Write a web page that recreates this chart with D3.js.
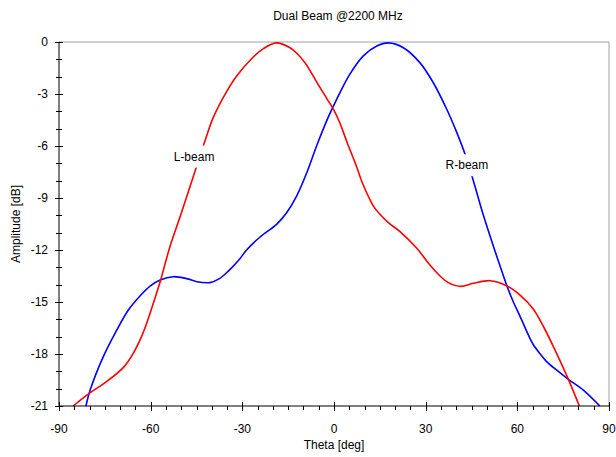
<!DOCTYPE html>
<html>
<head>
<meta charset="utf-8">
<script src="https://cdn.jsdelivr.net/npm/d3@7"></script>
<style>
  body { margin: 0; background: #fff; }
  svg { display: block; font-family: "Liberation Sans", Arial, sans-serif; }
</style>
</head>
<body>
<div id="chart"></div>
<script>
// Series data: [theta deg, amplitude dB]
const lBeam = [
  [-85.4, -21.0], [-80.1, -20.27], [-74.9, -19.65], [-68.9, -18.77], [-65.7, -17.96],
  [-63.0, -17.0], [-61.3, -16.23], [-59.0, -15.0], [-56.9, -13.83], [-53.7, -11.81],
  [-50.4, -10.1], [-45.3, -7.36], [-41.7, -5.42], [-39.5, -4.35], [-35.1, -2.85],
  [-31.8, -1.95], [-26.9, -0.95], [-23.1, -0.38], [-18.8, -0.05], [-14.4, -0.33],
  [-12.0, -0.68], [-9.5, -1.2], [-7.5, -1.75], [-5.7, -2.3], [-2.4, -3.25],
  [-0.3, -3.85], [1.75, -4.6], [4.2, -5.75], [7.4, -7.2], [9.1, -8.05],
  [11.5, -9.0], [13.0, -9.5], [15.1, -9.95], [18.0, -10.45], [21.6, -10.94],
  [27.1, -11.9], [31.4, -12.87], [34.7, -13.5], [37.4, -13.88], [41.5, -14.1],
  [45.6, -13.92], [51.1, -13.77], [56.5, -14.06], [60.9, -14.6], [65.2, -15.4],
  [68.8, -16.5], [72.0, -17.65], [76.7, -19.46], [80.3, -21.0]
];
const rBeam = [
  [-81.2, -21.0], [-79.8, -20.08], [-75.5, -18.15], [-71.1, -16.62], [-67.3, -15.46],
  [-63.5, -14.65], [-60.2, -14.08], [-56.9, -13.73], [-52.6, -13.54], [-48.2, -13.65],
  [-44.9, -13.83], [-40.6, -13.88], [-37.5, -13.65], [-34.5, -13.2], [-30.8, -12.5],
  [-28.6, -12.0], [-24.2, -11.25], [-18.8, -10.52], [-15.5, -9.85], [-12.2, -8.88],
  [-8.9, -7.54], [-5.7, -6.0], [-2.4, -4.55], [-0.2, -3.7], [2.0, -2.9],
  [5.2, -1.85], [9.6, -0.8], [14.0, -0.23], [17.8, -0.05], [22.7, -0.33],
  [28.1, -1.19], [32.5, -2.35], [36.9, -3.88], [40.2, -5.23], [42.9, -6.48],
  [45.6, -8.0], [48.9, -10.0], [52.1, -11.75], [54.3, -12.9], [56.6, -14.08],
  [58.7, -15.0], [60.9, -15.83], [63.6, -16.9], [65.2, -17.45], [67.5, -18.0],
  [69.6, -18.44], [73.0, -18.95], [76.7, -19.46], [81.6, -20.08], [87.0, -21.0]
];

const xTicks = [-90, -60, -30, 0, 30, 60, 90];
const yTicks = [0, -3, -6, -9, -12, -15, -18, -21];
const xMinor = d3.range(-90, 91, 5);
const yMinor = d3.range(-21, 1, 1);

// label name, theta, dB at the label centre
const labels = [
  { text: "L-beam", x: -45.8, y: -6.6 },
  { text: "R-beam", x: 43.5, y: -7.1 }
];

const width = 616, height = 457;
const margin = { top: 42, right: 7, bottom: 51, left: 59 };

const svg = d3.select("#chart").append("svg")
  .attr("width", width)
  .attr("height", height);

const x = d3.scaleLinear().domain([-90, 90]).range([margin.left, width - margin.right]);
const y = d3.scaleLinear().domain([-21, 0]).range([height - margin.bottom, margin.top]);

// frame (top/right in grey)
svg.append("path")
  .attr("d", `M${x(-90)},${y(0)}H${x(90)}V${y(-21)}`)
  .attr("fill", "none")
  .attr("stroke", "#a0a0a0")
  .attr("stroke-width", 1);

// Curves
const line = d3.line()
  .x(d => x(d[0]))
  .y(d => y(d[1]))
  .curve(d3.curveCatmullRom.alpha(0.5));

svg.append("path").datum(rBeam)
  .attr("d", line)
  .attr("fill", "none")
  .attr("stroke", "#0000ff")
  .attr("stroke-width", 1.6);

svg.append("path").datum(lBeam)
  .attr("d", line)
  .attr("fill", "none")
  .attr("stroke", "#ff0000")
  .attr("stroke-width", 1.6);

// Axes
const gx = svg.append("g").attr("transform", `translate(0,${y(-21)})`);
gx.append("line").attr("x1", x(-90)).attr("x2", x(90)).attr("stroke", "#000");
gx.selectAll(".minor").data(xMinor).join("line")
  .attr("x1", d => Math.round(x(d)) + 0.5).attr("x2", d => Math.round(x(d)) + 0.5)
  .attr("y1", 0).attr("y2", 4)
  .attr("stroke", "#000");
gx.selectAll(".major").data(xTicks).join("line")
  .attr("x1", d => Math.round(x(d)) + 0.5).attr("x2", d => Math.round(x(d)) + 0.5)
  .attr("y1", -4).attr("y2", 5)
  .attr("stroke", "#000");
gx.selectAll("text").data(xTicks).join("text")
  .attr("x", d => x(d))
  .attr("y", 27)
  .attr("text-anchor", "middle")
  .attr("font-size", 12)
  .attr("fill", "#000")
  .text(d => d);

const gy = svg.append("g").attr("transform", `translate(${x(-90)},0)`);
gy.append("line").attr("y1", y(0)).attr("y2", y(-21)).attr("stroke", "#000");
gy.selectAll(".minor").data(yMinor).join("line")
  .attr("y1", d => Math.round(y(d)) + 0.5).attr("y2", d => Math.round(y(d)) + 0.5)
  .attr("x1", -3).attr("x2", 3)
  .attr("stroke", "#000");
gy.selectAll(".major").data(yTicks).join("line")
  .attr("y1", d => Math.round(y(d)) + 0.5).attr("y2", d => Math.round(y(d)) + 0.5)
  .attr("x1", -4).attr("x2", 4)
  .attr("stroke", "#000");
gy.selectAll("text").data(yTicks).join("text")
  .attr("x", -11)
  .attr("y", d => y(d))
  .attr("dy", "0.35em")
  .attr("text-anchor", "end")
  .attr("font-size", 12)
  .attr("fill", "#000")
  .text(d => d);

// Beam labels on a white box
labels.forEach(l => {
  const g = svg.append("g");
  const t = g.append("text")
    .attr("x", x(l.x))
    .attr("y", y(l.y))
    .attr("dy", "0.35em")
    .attr("text-anchor", "middle")
    .attr("font-size", 12)
    .attr("fill", "#000")
    .text(l.text);
  const bb = t.node().getBBox();
  g.insert("rect", "text")
    .attr("x", bb.x - 3)
    .attr("y", bb.y - 4)
    .attr("width", bb.width + 6)
    .attr("height", bb.height + 8)
    .attr("fill", "#fff");
});

// Titles
svg.append("text")
  .attr("x", 338).attr("y", 20)
  .attr("text-anchor", "middle")
  .attr("font-size", 12)
  .text("Dual Beam @2200 MHz");

svg.append("text")
  .attr("x", x(0)).attr("y", 449)
  .attr("text-anchor", "middle")
  .attr("font-size", 12)
  .text("Theta [deg]");

svg.append("text")
  .attr("transform", `translate(20,${(y(0) + y(-21)) / 2}) rotate(-90)`)
  .attr("text-anchor", "middle")
  .attr("font-size", 12)
  .text("Amplitude [dB]");
</script>
</body>
</html>
